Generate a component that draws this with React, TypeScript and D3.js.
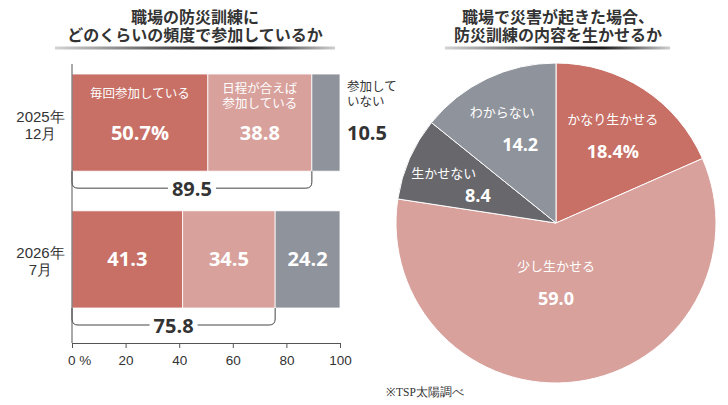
import { useEffect, useRef } from "react";
import * as d3 from "d3";

// left chart: how often people join workplace disaster drills
const periods = ["2025年12月", "2026年7月"];
const periodLines = [
  ["2025年", "12月"],
  ["2026年", "7月"],
];
const everyTime = [50.7, 41.3];
const whenPossible = [38.8, 34.5];
const notJoining = [10.5, 24.2];
const joiningTotal = [89.5, 75.8];
const xTicks = [0, 20, 40, 60, 80, 100];

// right chart: can drill content be used in a real disaster
const pieNames = ["かなり生かせる", "少し生かせる", "生かせない", "わからない"];
const pieValues = [18.4, 59.0, 8.4, 14.2];

const RED = "#c86f66";
const PINK = "#d8a19c";
const GRAY = "#8f939b";
const DARK = "#67676c";
const INK = "#333333";

const JP = "'Noto Sans CJK JP', 'Noto Sans', sans-serif";
const NUM = "'Open Sans', 'Noto Sans', sans-serif";
const LAT = "'Liberation Sans', Arial, sans-serif";

const W = 728;
const H = 405;

const Underline = ({ x1, x2, y, id }: { x1: number; x2: number; y: number; id: string }) => (
  <>
    <defs>
      <linearGradient id={id} x1="0" x2="1" y1="0" y2="0">
        <stop offset="0%" stopColor="#d4d4d4" />
        <stop offset="45%" stopColor="#444" />
        <stop offset="70%" stopColor="#1a1a1a" />
        <stop offset="100%" stopColor="#cfcfcf" />
      </linearGradient>
    </defs>
    <rect x={x1} y={y - 1.5} width={x2 - x1} height={3} fill={`url(#${id})`} />
  </>
);

// two stacked lines in one text element
const TwoLines = ({ x, y, gap, lines }: { x: number; y: number; gap: number; lines: string[] }) => (
  <text x={x} y={y}>
    <tspan x={x} y={y}>{lines[0]}</tspan>
    <tspan x={x} y={y + gap}>{lines[1]}</tspan>
  </text>
);

const App = () => {
  const axisRef = useRef<SVGGElement | null>(null);

  const x = d3.scaleLinear().domain([0, 100]).range([72, 340]);
  const y = d3.scaleBand<string>().domain(periods).range([74, 308]).paddingInner(0.29);
  const bw = y.bandwidth();

  useEffect(() => {
    document.body.style.margin = "0";
    if (!axisRef.current) return;
    const g = d3.select(axisRef.current);
    g.selectAll("*").remove();
    g.call(
      d3
        .axisBottom(x)
        .tickValues(xTicks)
        .tickSize(5)
        .tickSizeOuter(0)
        .tickPadding(7)
        .tickFormat((d) => (d === 0 ? "0 %" : String(d)))
    );
    g.select(".domain").attr("stroke", "#555");
    g.selectAll(".tick line").attr("stroke", "#555");
    g.selectAll(".tick text")
      .attr("fill", INK)
      .attr("font-family", LAT)
      .attr("font-size", 13.5);
    g.selectAll<SVGTextElement, number>(".tick text")
      .filter((d) => d === 0)
      .attr("text-anchor", "start")
      .attr("dx", -4.5);
  }, []);

  const axisY = 343;

  // pie
  const cx = 556;
  const cy = 223;
  const R = 160;
  const pie = d3
    .pie<number>()
    .sort(null)
    .value((d) => d);
  const arcs = pie(pieValues);
  const arcGen = d3.arc<d3.PieArcDatum<number>>().innerRadius(0).outerRadius(R);
  const pieColors = [RED, PINK, DARK, GRAY];

  const bracket = (total: number, barBottom: number) => {
    const x0 = x(0);
    const x1 = x(total);
    const yb = barBottom + 17;
    const r = 6;
    return `M${x0},${barBottom}V${yb - r}Q${x0},${yb} ${x0 + r},${yb}H${x1 - r}Q${x1},${yb} ${x1},${yb - r}V${barBottom}`;
  };

  return (
    <svg width={W} height={H} viewBox={`0 0 ${W} ${H}`} style={{ display: "block", background: "#fff" }}>
      {/* titles */}
      <g fontFamily={JP} fontWeight={700} fontSize={16} fill={INK} textAnchor="middle">
        <TwoLines x={195} y={23} gap={18} lines={["職場の防災訓練に", "どのくらいの頻度で参加しているか"]} />
        <TwoLines x={558} y={23} gap={18} lines={["職場で災害が起きた場合、", "防災訓練の内容を生かせるか"]} />
      </g>
      <Underline x1={55} x2={335} y={48} id="ulL" />
      <Underline x1={445} x2={670} y={48} id="ulR" />

      {/* bars */}
      {periods.map((p, i) => {
        const top = y(p) ?? 0;
        const segs = [
          { v: everyTime[i], start: 0, color: RED },
          { v: whenPossible[i], start: everyTime[i], color: PINK },
          { v: notJoining[i], start: everyTime[i] + whenPossible[i], color: GRAY },
        ];
        return (
          <g key={p}>
            {segs.map((s, j) => (
              <rect
                key={j}
                x={x(s.start)}
                y={top}
                width={x(s.start + s.v) - x(s.start)}
                height={bw}
                fill={s.color}
                stroke="#fff"
                strokeWidth={0.8}
              />
            ))}
            <g fontFamily={LAT} fontSize={15} fill={INK} textAnchor="middle">
              <TwoLines x={40.5} y={top + bw / 2 - 1} gap={17} lines={periodLines[i]} />
            </g>
            <path d={bracket(joiningTotal[i], top + bw)} fill="none" stroke="#444" strokeWidth={1} />
            <rect x={(x(0) + x(joiningTotal[i])) / 2 - 24} y={top + bw + 8} width={48} height={18} fill="#fff" />
            <text
              x={(x(0) + x(joiningTotal[i])) / 2}
              y={top + bw + 24.5}
              textAnchor="middle"
              fontFamily={NUM}
              fontWeight={700}
              fontSize={20}
              fill={INK}
            >
              {joiningTotal[i].toFixed(1)}
            </text>
            {i === 0 ? (
              <>
                <g fontFamily={JP} fontSize={12.5} fill="#fff" textAnchor="middle">
                  <text x={x(everyTime[i] / 2)} y={top + 24}>毎回参加している</text>
                  <TwoLines
                    x={x(everyTime[i] + whenPossible[i] / 2)}
                    y={top + 18.5}
                    gap={15.5}
                    lines={["日程が合えば", "参加している"]}
                  />
                </g>
                <g fontFamily={NUM} fontWeight={700} fontSize={20} fill="#fff" textAnchor="middle">
                  <text x={x(everyTime[i] / 2)} y={top + 66}>{everyTime[i].toFixed(1)}%</text>
                  <text x={x(everyTime[i] + whenPossible[i] / 2)} y={top + 66}>{whenPossible[i].toFixed(1)}</text>
                </g>
                <g fontFamily={JP} fontSize={12.5} fill={INK}>
                  <TwoLines x={347} y={top + 16.5} gap={15.5} lines={["参加して", "いない"]} />
                </g>
                <text x={347} y={top + 66} fontFamily={NUM} fontWeight={700} fontSize={20} fill={INK}>
                  {notJoining[i].toFixed(1)}
                </text>
              </>
            ) : (
              <g fontFamily={NUM} fontWeight={700} fontSize={20} fill="#fff" textAnchor="middle">
                {segs.map((s, j) => (
                  <text key={j} x={x(s.start + s.v / 2)} y={top + bw / 2 + 7}>
                    {s.v.toFixed(1)}
                  </text>
                ))}
              </g>
            )}
          </g>
        );
      })}

      {/* axes */}
      <line x1={x(0)} x2={x(0)} y1={64} y2={axisY} stroke="#555" />
      <g ref={axisRef} transform={`translate(0,${axisY})`} />

      {/* pie */}
      <g transform={`translate(${cx},${cy})`}>
        {arcs.map((a, i) => (
          <path key={i} d={arcGen(a) ?? ""} fill={pieColors[i]} stroke="#fff" strokeWidth={1} />
        ))}
        {arcs.map((a, i) => {
          const lr = a.value > 50 ? R * 0.38 : R * 0.65;
          const [lx, ly] = d3.arc<d3.PieArcDatum<number>>().innerRadius(lr).outerRadius(lr).centroid(a);
          const small = a.value < 10;
          const gap = small ? 11 : 16;
          const shift = i === 2 ? 17 : i === 3 ? 9 : 0;
          const nudge = i === 1 ? -8 : 0;
          const drop = small ? 4 : 0;
          return (
            <g key={`l${i}`} textAnchor="middle" fill="#fff">
              <text x={lx - shift + nudge} y={ly - gap + 4 + drop} fontFamily={JP} fontSize={13}>
                {pieNames[i]}
              </text>
              <text x={lx + shift + nudge} y={ly + gap + 6 + drop} fontFamily={NUM} fontWeight={700} fontSize={18}>
                {a.value.toFixed(1)}
                {i === 0 ? "%" : ""}
              </text>
            </g>
          );
        })}
      </g>

      <text x={386} y={396} fontFamily="'Liberation Serif', 'DejaVu Serif', serif" fontSize={11.5} fill={INK}>
        ※TSP太陽調べ
      </text>
    </svg>
  );
};

export default App;
